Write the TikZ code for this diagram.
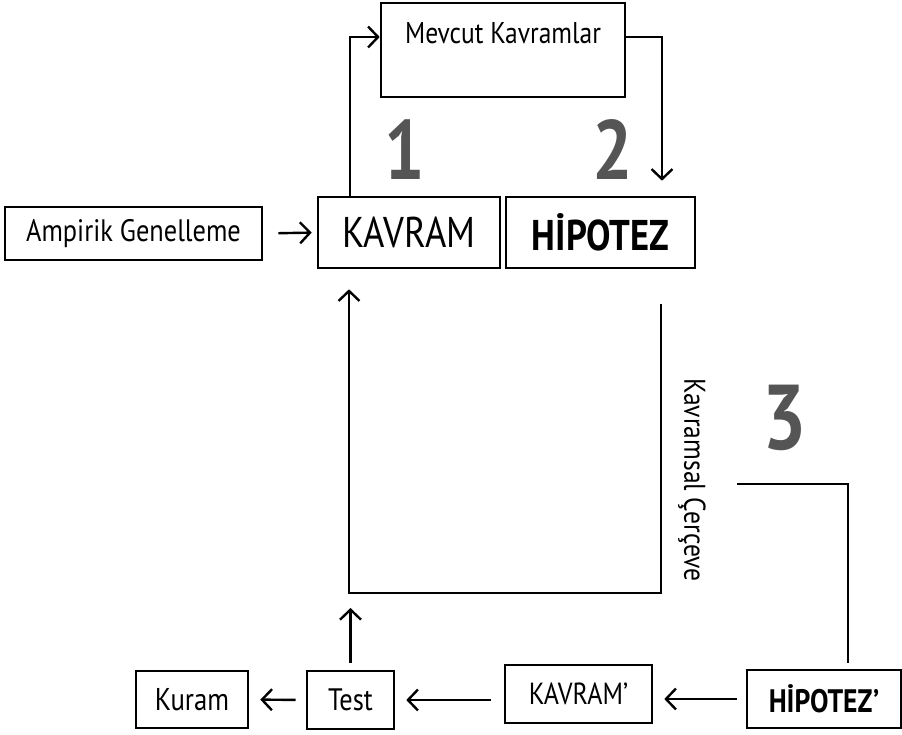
\documentclass[tikz,border=0pt]{standalone}
\usepackage{fontspec}
\setmainfont{PT Sans}[FakeStretch=0.85]
\usepackage{tikz}
\usetikzlibrary{arrows.meta}
\usepackage{xcolor}
\definecolor{rakamgri}{HTML}{555555}

\tikzset{
  kutu/.style={draw, line width=2.6pt, inner sep=0pt},
  ok/.style={line width=2.4pt, -{Straight Barb[length=10pt,width=21pt]}},
  cizgi/.style={line width=2.4pt},
  rakam/.style={text=rakamgri, font=\fontsize{84}{84}\selectfont\bfseries},
}

\begin{document}
\begin{tikzpicture}[x=1pt,y=-1pt]
\useasboundingbox (0,0) rectangle (902,734);
% ust kutular
\node[kutu, minimum width=244pt, minimum height=94pt] (mevcut) at (503,50) {};
\node[font=\fontsize{30}{30}\selectfont] (mevcutyazi) at (503,33) {Mevcut Kavramlar};
\node[kutu, minimum width=257pt, minimum height=53pt, font=\fontsize{31}{31}\selectfont] (ampirik) at (133.5,233.5) {Ampirik Genelleme};
\node[kutu, minimum width=182pt, minimum height=71pt, font=\fontsize{43}{43}\selectfont] (kavram) at (409,232.5) {KAVRAM};
\node[kutu, minimum width=189pt, minimum height=71pt, font=\fontsize{43}{43}\selectfont\bfseries] (hipotez) at (600.5,232.5) {HİPOTEZ};
% alt kutular
\node[kutu, minimum width=112pt, minimum height=57pt, font=\fontsize{31.5}{31.5}\selectfont] (kuram) at (192,699.5) {Kuram};
\node[kutu, minimum width=87pt, minimum height=58pt, font=\fontsize{31}{31}\selectfont] (test) at (350.5,700) {Test};
\node[kutu, minimum width=147pt, minimum height=58pt, font=\fontsize{30.5}{30.5}\selectfont] (kavram2) at (578.5,694) {KAVRAM’};
\node[kutu, minimum width=154pt, minimum height=58pt, font=\fontsize{32.5}{32.5}\selectfont\bfseries] (hipotez2) at (824,699) {HİPOTEZ’};
% rakamlar
\node[rakam] (bir) at (405,150) {1};
\node[rakam] (iki) at (613,150) {2};
\node[rakam, font=\fontsize{92}{92}\selectfont\bfseries] (uc) at (785,418) {3};
\node[rotate=-90, font=\fontsize{30}{30}\selectfont] (cerceve) at (692,480) {Kavramsal Çerçeve};
\coordinate (alt) at (349,593);
\coordinate (kol) at (737,484);
% oklar
\draw[ok, shorten <=15pt, shorten >=5pt] (ampirik.east) -- (kavram.west);
\draw[ok] ([xshift=-59pt]kavram.north) |- ([yshift=13pt]mevcut.west);
\draw[ok, shorten >=15pt] ([yshift=13pt]mevcut.east) -| ([xshift=61.5pt]hipotez.north);
\draw[ok] ([xshift=60.5pt,yshift=-35pt]hipotez.south) |- (alt) -- ([xshift=-60pt,yshift=-20pt]kavram.south);
\draw[ok, shorten <=7pt, shorten >=15pt] (test.north) -- (test.north |- alt);
\draw[ok, shorten <=10pt, shorten >=11pt] (test.west) -- (kuram.east);
\draw[ok, shorten <=13pt, shorten >=11pt] (kavram2.west |- test.east) -- (test.east);
\draw[ok, shorten <=9pt, shorten >=11pt] (hipotez2.west) -- (hipotez2.west -| kavram2.east);
\draw[cizgi] ([xshift=24pt,yshift=6pt]hipotez2.north) |- (kol);
\end{tikzpicture}
\end{document}
